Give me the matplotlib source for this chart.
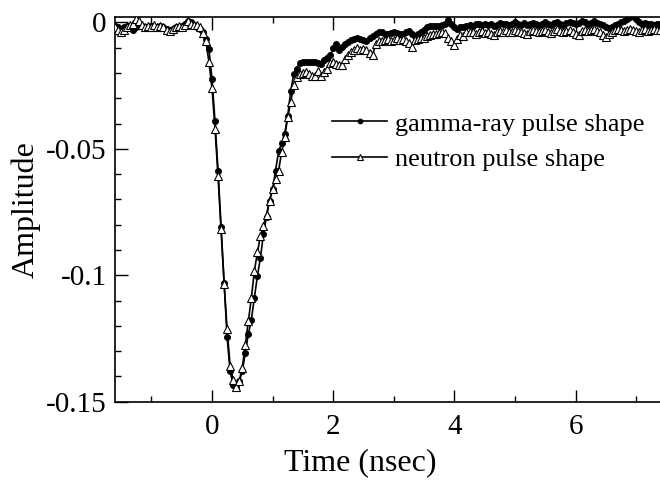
import numpy as np
import matplotlib
matplotlib.use("Agg")
import matplotlib.pyplot as plt
from matplotlib.ticker import MultipleLocator, FixedLocator

# ---- data -------------------------------------------------------------
# time grid (ns): samples every 0.05 ns from -1.6 to 7.4
time_ns = np.arange(-160, 741, 5) / 100.0

# amplitudes (x 1e-3)
gamma_milli = [
    -1.5, -2.0, -2.5, -2.0, -1.5, -2.0, -3.0, -2.0, -1.0, -1.5,
    -2.0, -2.0, -1.5, -2.0, -2.0, -1.5, -2.0, -2.5, -3.0, -2.5,
    -2.0, -2.0, -1.5, -0.5, 0.5, 0.0, -1.0, -2.0, -2.5, -4.0,
    -6.5, -10.7, -22.2, -39.0, -58.6, -80.8, -103.0, -124.5, -138.0, -143.5,
    -144.0, -142.0, -138.0, -130.7, -123.4, -117.5, -109.0, -100.3, -93.0, -83.7,
    -76.9, -70.5, -66.0, -58.6, -51.0, -47.8, -44.0, -37.0, -27.0, -20.5,
    -18.3, -16.0, -15.6, -15.6, -15.8, -15.6, -15.6, -16.0, -16.3, -15.0,
    -14.0, -13.0, -10.3, -8.4, -11.0, -9.7, -8.5, -7.7, -7.0, -6.7,
    -6.3, -6.5, -7.0, -7.5, -6.0, -5.4, -4.5, -4.0, -3.8, -4.5,
    -4.7, -4.2, -4.0, -4.2, -4.5, -4.7, -4.0, -3.4, -4.5, -5.4,
    -4.5, -4.0, -3.0, -2.0, -1.6, -1.3, -1.5, -1.3, -1.0, -0.5,
    1.0, -0.5, -2.0, -2.5, -2.0, -2.0, -1.5, -1.0, -1.5, -0.8,
    -0.5, -1.0, -0.5, -1.2, -0.8, -1.5, -1.0, -0.3, -0.8, -0.5,
    -1.2, -0.6, 0.0, -0.5, -1.0, -0.4, -1.2, -0.8, -0.2, -0.7,
    -1.0, -0.5, 0.0, -0.6, -1.0, -0.4, 0.2, -0.5, -0.9, -0.3,
    0.3, -0.4, -0.8, -0.2, 0.5, 0.0, -0.6, -0.2, 0.4, -0.3,
    -0.8, -1.2, -2.0, -2.3, -1.8, -1.2, -0.5, 0.0, 0.5, 1.2,
    2.0, 2.9, 1.5, 0.0, -0.8, -0.3, -0.8, -0.5, -1.0, -0.5,
    -0.8,
]

neutron_milli = [
    -2.0, -3.0, -4.0, -3.0, -2.0, -1.0, -0.5, 1.5, 0.5, -1.0,
    -2.0, -1.5, -2.0, -1.0, -2.0, -1.5, -2.0, -3.0, -3.5, -2.5,
    -2.0, -1.5, -2.0, -1.0, 0.5, -0.5, -1.0, -1.0, -2.0, -4.4,
    -7.5, -15.6, -25.8, -42.0, -60.6, -81.8, -103.3, -121.4, -136.0, -141.3,
    -144.3, -141.7, -136.7, -127.4, -118.0, -109.0, -98.3, -91.0, -84.4, -80.5,
    -76.0, -70.5, -65.9, -62.0, -58.6, -51.3, -45.4, -37.5, -31.5, -24.9,
    -21.6, -20.5, -20.0, -19.6, -20.5, -21.3, -21.3, -19.2, -21.3, -19.6,
    -18.3, -16.0, -15.6, -16.5, -17.0, -17.0, -14.3, -13.0, -11.7, -11.0,
    -10.3, -11.0, -10.6, -11.0, -12.0, -13.0, -8.4, -7.5, -7.2, -7.0,
    -6.5, -7.2, -6.8, -6.0, -7.0, -6.5, -7.5, -8.0, -9.7, -7.0,
    -6.5, -6.0, -6.3, -5.5, -5.0, -4.8, -4.5, -4.3, -3.7, -4.4,
    -6.0, -7.5, -9.0, -6.5, -5.0, -5.5, -4.0, -3.8, -3.7, -4.5,
    -4.0, -3.5, -4.2, -4.0, -4.8, -5.0, -3.8, -3.5, -4.0, -3.2,
    -4.0, -3.7, -3.0, -3.5, -3.8, -4.2, -4.8, -3.5, -3.0, -3.6,
    -4.0, -3.4, -3.0, -3.8, -4.2, -3.3, -2.8, -3.5, -4.0, -3.5,
    -3.0, -3.8, -4.5, -5.0, -3.5, -3.0, -3.6, -3.2, -2.8, -3.5,
    -4.0, -5.0, -5.7, -4.5, -3.8, -3.0, -2.5, -3.2, -3.6, -3.0,
    -2.5, -3.0, -3.5, -4.0, -3.2, -2.8, -3.4, -3.0, -2.6, -3.2,
    -3.0,
]

gamma = np.array(gamma_milli) / 1000.0
neutron = np.array(neutron_milli) / 1000.0

series_labels = ["gamma-ray pulse shape", "neutron pulse shape"]
x_ticks = [0, 2, 4, 6]
y_ticks = [-0.15, -0.1, -0.05, 0]
y_tick_labels = ["-0.15", "-0.1", "-0.05", "0"]

# ---- plot -------------------------------------------------------------
plt.rcParams['font.family'] = ['Liberation Serif', 'DejaVu Serif']

fig = plt.figure(figsize=(6.6, 4.84), dpi=100)
ax_left, ax_right, ax_top, ax_bottom = 115, 670, 17.3, 401.7
ax = fig.add_axes([ax_left / 660, 1 - ax_bottom / 484,
                   (ax_right - ax_left) / 660, (ax_bottom - ax_top) / 484])

ax.plot(time_ns, gamma, color='black', lw=1.2, marker='o', ms=4.4,
        mfc='black', mec='black', mew=0.6, label=series_labels[0], zorder=3)
ax.plot(time_ns, neutron, color='black', lw=1.2, marker='^', ms=5.4,
        mfc='white', mec='black', mew=0.8, label=series_labels[1], zorder=4)

x_per_ns = 60.6
ax.set_xlim(-1.6, -1.6 + (ax_right - ax_left) / x_per_ns)
ax.set_ylim(-0.15, 0.002)

ax.xaxis.set_major_locator(FixedLocator(x_ticks))
ax.xaxis.set_minor_locator(MultipleLocator(1))
ax.yaxis.set_major_locator(FixedLocator(y_ticks))
ax.set_yticklabels(y_tick_labels)
ax.yaxis.set_minor_locator(MultipleLocator(0.01))

ax.tick_params(which='both', direction='in', top=True, right=False,
               labelsize=21, width=1.0)
ax.tick_params(axis='y', pad=6)
ax.tick_params(axis='x', pad=9)
ax.tick_params(which='major', length=9)
ax.tick_params(which='minor', length=4.5)
for s in ax.spines.values():
    s.set_linewidth(1.2)

ax.set_xlabel("Time (nsec)", fontsize=23)
ax.xaxis.set_label_coords((360 - ax_left) / (ax_right - ax_left),
                          -(448 - ax_bottom) / (ax_bottom - ax_top))
ax.set_ylabel("Amplitude", fontsize=23, labelpad=4)

leg = ax.legend(loc='center left', bbox_to_anchor=(332 / 660, 1 - 141.5 / 484),
                bbox_transform=fig.transFigure, frameon=False, fontsize=19,
                numpoints=1, handlelength=2.1, handletextpad=0.3,
                labelspacing=0.45, borderpad=0, borderaxespad=0, markerscale=0.8)

fig.savefig("out.png", dpi=100)
